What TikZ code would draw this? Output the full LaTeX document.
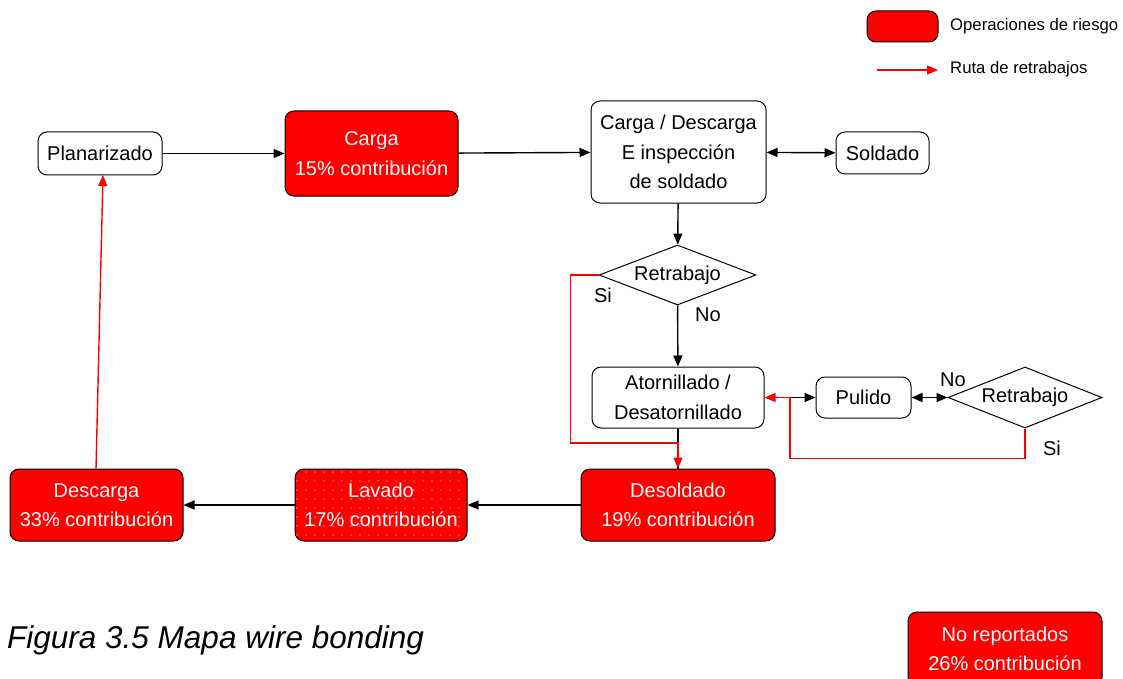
\documentclass[tikz,border=0pt]{standalone}
\usepackage{fontspec}
\setmainfont{Liberation Sans}
\usetikzlibrary{shapes.geometric,arrows.meta,patterns.meta}
\begin{document}
\begin{tikzpicture}[x=1pt,y=-1pt,
  every node/.style={font=\fontsize{20}{29.5}\selectfont, align=center, inner sep=0pt},
  wbox/.style={draw=black, line width=1pt, rounded corners=9pt, fill=white},
  rbox/.style={draw=black, line width=1pt, rounded corners=9pt, fill=red, text=white},
  dia/.style={draw=black, line width=1pt, diamond, aspect=2.6, minimum width=157pt, minimum height=60pt},
  conn/.style={draw=black, line width=1.4pt, -{Triangle[length=11pt,width=9pt]}},
  bconn/.style={draw=black, line width=1.4pt, {Triangle[length=11pt,width=9pt]}-{Triangle[length=11pt,width=9pt]}},
  plain/.style={draw=black, line width=1.4pt},
  rconn/.style={draw=red, line width=1.4pt, -{Triangle[length=11pt,width=9pt]}},
  lbl/.style={font=\fontsize{20}{22}\selectfont},
  leg/.style={font=\fontsize{16.7}{19}\selectfont, anchor=west}
]
\clip (0,0) rectangle (1123,679);
\fill[white] (0,0) rectangle (1123,679);

% legend
\node[rbox, minimum width=71pt, minimum height=31pt] (lg) at (902.5,26.5) {};
\node[leg] (lgt) at (950,26) {Operaciones de riesgo};
\coordinate (la) at (877,70);
\coordinate (lb) at (938,70);
\draw[rconn] (la) -- (lb);
\node[leg] (lgt2) at (950,69) {Ruta de retrabajos};

% nodes
\node[wbox, minimum width=124pt, minimum height=43pt] (pla) at (100,153.5) {Planarizado};
\node[rbox, minimum width=173pt, minimum height=85pt] (car) at (371.5,153.5) {Carga\\15\% contribución};
\node[wbox, minimum width=175pt, minimum height=102pt] (cde) at (678.5,152) {Carga / Descarga\\E inspección\\de soldado};
\node[wbox, minimum width=93pt, minimum height=42pt] (sol) at (882.5,153) {Soldado};
\node[dia] (d1) at (677.5,275) {Retrabajo};
\node[wbox, minimum width=172pt, minimum height=61pt] (ato) at (678,397.5) {Atornillado /\\Desatornillado};
\node[wbox, minimum width=95pt, minimum height=41pt] (pul) at (863.5,397.5) {Pulido};
\node[dia, minimum width=154pt, minimum height=61pt] (d2) at (1025,397.5) {Retrabajo};
\node[rbox, minimum width=194pt, minimum height=72pt] (des) at (678,505) {Desoldado\\19\% contribución};
\node[rbox, minimum width=172pt, minimum height=72pt, preaction={fill=red}, pattern={Dots[distance=9pt,radius=0.6pt]}, pattern color=white] (lav) at (381,505) {Lavado\\17\% contribución};
\node[rbox, minimum width=173pt, minimum height=72pt] (dca) at (96.5,505) {Descarga\\33\% contribución};
\node[rbox, minimum width=194pt, minimum height=74pt] (nor) at (1005,649) {No reportados\\26\% contribución};

\node[font=\fontsize{31.5}{36}\selectfont\itshape, anchor=west] (cap) at (7,640) {Figura 3.5 Mapa wire bonding};

% labels
\node[lbl] (si1) at (603,295) {Si};
\node[lbl] (no1) at (708,315) {No};
\node[lbl] (no2) at (953,380) {No};
\node[lbl] (si2) at (1052,448) {Si};

% connectors
\draw[conn] (pla) -- (car);
\draw[conn] (car) -- (cde);
\draw[bconn] (cde) -- (sol);
\draw[conn] (cde) -- (d1);
\draw[conn] (d1) -- (ato);
\draw[bconn] (pul) -- (d2);
\coordinate (jx) at (790,397.5);
\draw[conn] (jx) -- (pul.west);
\draw[plain] (ato.south) -- (des.north);
\coordinate (ry) at (0,443);
\draw[rconn] (d1.west) -- ++(-28,0) |- (des.north |- ry) -- (des.north);
\draw[rconn] (d2.south) -- ++(0,30) -| (jx) -- (ato.east);
\draw[conn] (des) -- (lav);
\draw[conn] (lav) -- (dca);
\coordinate (dtop) at (96,469);
\coordinate (ptop) at (103,175);
\draw[rconn] (dtop) -- (ptop);
\end{tikzpicture}
\end{document}
